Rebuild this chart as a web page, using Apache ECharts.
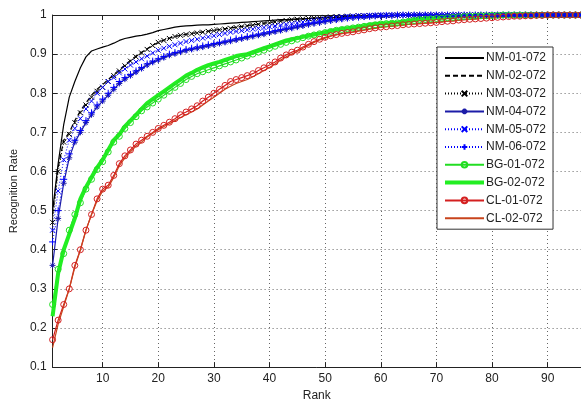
<!DOCTYPE html>
<html><head><meta charset="utf-8">
<script src="https://cdn.jsdelivr.net/npm/echarts@6/dist/echarts.min.js"></script>
<style>html,body{margin:0;padding:0;background:#fff}#c{width:581px;height:407px}</style>
</head><body><div id="c"></div>
<script>
var ranks = [1,2,3,4,5,6,7,8,9,10,11,12,13,14,15,16,17,18,19,20,21,22,23,24,25,26,27,28,29,30,31,32,33,34,35,36,37,38,39,40,41,42,43,44,45,46,47,48,49,50,51,52,53,54,55,56,57,58,59,60,61,62,63,64,65,66,67,68,69,70,71,72,73,74,75,76,77,78,79,80,81,82,83,84,85,86,87,88,89,90,91,92,93,94,95,96];
var xTicks = [10,20,30,40,50,60,70,80,90];
var seriesNames = ['NM-01-072','NM-02-072','NM-03-072','NM-04-072','NM-05-072','NM-06-072','BG-01-072','BG-02-072','CL-01-072','CL-02-072'];

var NM01 = [.50,.62,.72,.79,.83,.865,.893,.908,.913,.918,
.922,.928,.935,.940,.943,.946,.948,.951,.955,.960,
.963,.966,.969,.971,.972,.973,.974,.975,.975,.976,
.977,.978,.979,.980,.981,.982,.983,.984,.985,.986,
.987,.988,.988,.989,.990,.990,.991,.992,.992,.993,
.993,.994,.994,.995,.995,.996,.996,.997,.997,.998,
.998,.998,.999,.999,.999,1,1,1,1,1,
1,1,1,1,1,1,1,1,1,1,
1,1,1,1,1,1,1,1,1,1,
1,1,1,1,1,1];
var NM02 = [.49,.61,.68,.70,.73,.755,.775,.795,.81,.822,
.835,.848,.86,.872,.884,.895,.905,.914,.923,.93,
.936,.941,.945,.948,.951,.953,.955,.957,.959,.961,
.963,.965,.967,.969,.971,.973,.975,.977,.979,.981,
.983,.985,.986,.988,.989,.99,.991,.992,.993,.994,
.995,.995,.996,.996,.997,.997,.998,.998,.999,.999,
.999,1,1,1,1,1,1,1,1,1,
1,1,1,1,1,1,1,1,1,1,
1,1,1,1,1,1,1,1,1,1,
1,1,1,1,1,1];
var NM03 = [.47,.60,.675,.695,.725,.75,.77,.79,.805,.815,
.83,.845,.857,.87,.882,.893,.903,.912,.922,.93,
.935,.94,.945,.948,.95,.952,.954,.956,.958,.96,
.962,.964,.966,.968,.97,.972,.974,.976,.978,.98,
.982,.984,.986,.988,.989,.99,.991,.992,.993,.994,
.995,.996,.996,.997,.997,.998,.998,.998,.999,.999,
.999,.999,1,1,1,1,1,1,1,1,
1,1,1,1,1,1,1,1,1,1,
1,1,1,1,1,1,1,1,1,1,
1,1,1,1,1,1];
var NM04 = [.36,.48,.57,.635,.675,.70,.725,.745,.765,.78,
.795,.81,.825,.836,.845,.854,.863,.872,.879,.885,
.891,.897,.901,.905,.909,.912,.915,.918,.921,.924,
.927,.93,.933,.936,.939,.942,.945,.948,.951,.954,
.957,.96,.963,.966,.969,.972,.975,.978,.98,.983,
.985,.987,.989,.991,.993,.994,.995,.996,.997,.998,
.998,.999,.999,1,1,1,1,1,1,1,
1,1,1,1,1,1,1,1,1,1,
1,1,1,1,1,1,1,1,1,1,
1,1,1,1,1,1];
var NM05 = [.45,.55,.63,.68,.71,.735,.76,.78,.80,.815,
.83,.84,.852,.862,.872,.88,.888,.895,.903,.91,
.915,.92,.924,.928,.932,.935,.938,.941,.944,.947,
.95,.953,.956,.958,.96,.962,.964,.966,.968,.97,
.972,.974,.976,.978,.98,.982,.984,.986,.988,.99,
.992,.994,.995,.996,.997,.998,.998,.999,.999,1,
1,1,1,1,1,1,1,1,1,1,
1,1,1,1,1,1,1,1,1,1,
1,1,1,1,1,1,1,1,1,1,
1,1,1,1,1,1];
var NM06 = [.42,.50,.58,.645,.68,.705,.73,.75,.77,.785,
.80,.815,.83,.84,.848,.857,.866,.875,.882,.888,
.894,.90,.904,.908,.912,.915,.918,.921,.924,.927,
.93,.933,.936,.939,.942,.945,.948,.951,.954,.957,
.96,.963,.966,.969,.972,.975,.978,.98,.982,.985,
.987,.989,.991,.993,.994,.995,.996,.997,.998,.998,
.999,.999,1,1,1,1,1,1,1,1,
1,1,1,1,1,1,1,1,1,1,
1,1,1,1,1,1,1,1,1,1,
1,1,1,1,1,1];
var BG01 = [.26,.35,.39,.45,.49,.52,.555,.58,.605,.625,
.65,.675,.69,.71,.725,.74,.755,.765,.775,.785,
.795,.805,.815,.825,.835,.843,.85,.855,.86,.865,
.87,.875,.88,.885,.89,.895,.90,.905,.91,.915,
.92,.925,.93,.934,.938,.942,.946,.949,.952,.955,
.958,.961,.963,.965,.967,.969,.971,.973,.975,.977,
.978,.979,.98,.982,.984,.986,.988,.989,.99,.991,
.992,.993,.994,.995,.996,.997,.997,.998,.998,.999,
.999,1,1,1,1,1,1,1,1,1,
1,1,1,1,1,1];
var BG02 = [.23,.34,.40,.44,.48,.53,.56,.585,.61,.63,
.655,.68,.695,.715,.73,.745,.76,.775,.785,.795,
.805,.815,.825,.835,.845,.852,.86,.866,.872,.876,
.88,.885,.89,.895,.898,.90,.905,.91,.915,.92,
.925,.93,.935,.938,.941,.944,.947,.95,.953,.956,
.959,.962,.964,.966,.968,.97,.972,.975,.977,.978,
.979,.98,.981,.983,.985,.987,.989,.99,.991,.992,
.993,.994,.995,.996,.997,.997,.998,.998,.999,.999,
1,1,1,1,1,1,1,1,1,1,
1,1,1,1,1,1];
var CL01 = [.17,.22,.26,.30,.36,.40,.45,.49,.53,.555,
.565,.59,.62,.64,.655,.67,.68,.69,.70,.71,
.718,.726,.735,.745,.752,.76,.768,.78,.79,.80,
.81,.82,.83,.835,.84,.845,.85,.858,.865,.872,
.88,.89,.898,.905,.91,.918,.925,.932,.938,.943,
.947,.95,.953,.955,.957,.96,.962,.965,.967,.969,
.97,.972,.973,.975,.976,.977,.978,.979,.98,.981,
.983,.984,.985,.987,.988,.989,.99,.991,.992,.993,
.994,.995,.996,.997,.997,.998,.998,.999,.999,1,
1,1,1,1,1,1];
var CL02 = [.15,.21,.255,.30,.355,.40,.45,.49,.525,.55,
.56,.585,.615,.635,.65,.665,.675,.688,.698,.707,
.715,.722,.73,.738,.745,.752,.76,.77,.78,.79,
.80,.81,.818,.825,.83,.835,.842,.85,.858,.866,
.875,.885,.893,.90,.907,.915,.922,.93,.936,.941,
.946,.949,.952,.954,.956,.959,.961,.964,.966,.968,
.97,.971,.973,.974,.976,.977,.978,.979,.98,.981,
.982,.984,.985,.986,.988,.989,.99,.991,.992,.993,
.994,.995,.996,.996,.997,.998,.998,.999,.999,1,
1,1,1,1,1,1];

var SYM_X = 'path://M0,0L10,10M10,0L0,10';
var SYM_PLUS = 'path://M5,0L5,10M0,5L10,5';
var SYM_STAR = 'path://M5,0L5,10M0,5L10,5M1.5,1.5L8.5,8.5M8.5,1.5L1.5,8.5';
var ICON_THICK = 'path://M0,0L0.01,0M0,1.5L39,1.5L39,5.5L0,5.5ZM39,7L38.99,7';

function pts(arr){ return arr.map(function(v,i){ return [ranks[i], v]; }); }
function mk(name, arr, color, lineType, width, symbol, symSize){
  return {
    name: name, type: 'line', data: pts(arr), xAxisIndex: 0,
    lineStyle: {color: color, width: width, type: lineType},
    itemStyle: {color: 'rgba(0,0,0,0)', borderColor: symbol ? color : 'rgba(0,0,0,0)', borderWidth: symbol ? 1 : 0},
    symbol: symbol || 'circle', symbolSize: symSize || 6,
    showSymbol: !!symbol, silent: true
  };
}

var font = 'Liberation Sans, Arial, sans-serif';
var legendText = {fontFamily: font, fontSize: 12, color: '#222', lineHeight: 14, padding: [0,0,0,-3]};
var legendData = seriesNames.map(function(n){
  return n === 'BG-02-072'
    ? {name: n, icon: ICON_THICK, itemStyle: {color: '#22ee22', borderWidth: 0}}
    : {name: n};
});

var chart = echarts.init(document.getElementById('c'), null, {renderer: 'canvas'});
chart.setOption({
  animation: false,
  backgroundColor: '#fff',
  grid: {left: 50, top: 15, width: 532, height: 358, containLabel: false},
  xAxis: [{
    type: 'value', min: 1, max: 96, position: 'bottom',
    name: 'Rank', nameLocation: 'middle', nameGap: 21,
    nameTextStyle: {fontFamily: font, fontSize: 12, color: '#222'},
    axisLine: {show: true, lineStyle: {color: '#222', width: 1}},
    axisTick: {show: true, inside: true, length: 5, customValues: xTicks, lineStyle: {color: '#222'}},
    axisLabel: {show: true, customValues: xTicks, fontFamily: font, fontSize: 12, color: '#222', margin: 6},
    splitLine: {show: true, lineStyle: {color: '#666', width: 1, type: [1, 3]}}
  }, {
    type: 'value', min: 1, max: 96, position: 'top',
    axisLine: {show: true, lineStyle: {color: '#222', width: 1}},
    axisTick: {show: true, inside: true, length: 5, customValues: xTicks, lineStyle: {color: '#222'}},
    axisLabel: {show: false},
    splitLine: {show: false}
  }],
  yAxis: {
    type: 'value', min: 0.1, max: 1, interval: 0.1,
    name: 'Recognition Rate', nameLocation: 'middle', nameGap: 30,
    nameTextStyle: {fontFamily: font, fontSize: 11, color: '#222'},
    axisLine: {show: true, lineStyle: {color: '#222', width: 1}},
    axisTick: {show: true, inside: true, length: 5, lineStyle: {color: '#222'}},
    axisLabel: {fontFamily: font, fontSize: 12, color: '#222', margin: 6},
    splitLine: {show: true, lineStyle: {color: '#666', width: 1, type: [1, 3]}}
  },
  legend: {
    orient: 'vertical', left: 437, top: 47,
    padding: [4, 7, 4, 7],
    itemWidth: 39, itemHeight: 7, itemGap: 3.8,
    backgroundColor: '#fff', borderColor: '#333', borderWidth: 1, borderRadius: 0,
    textStyle: legendText,
    data: legendData
  },
  series: [
    mk(seriesNames[0], NM01, '#000000', 'solid', 1.2),
    mk(seriesNames[1], NM02, '#000000', [5, 3], 1.2),
    mk(seriesNames[2], NM03, '#000000', [1, 2], 1, SYM_X, 5),
    mk(seriesNames[3], NM04, '#1c1ca8', 'solid', 1.2, SYM_STAR, 6),
    mk(seriesNames[4], NM05, '#0000ff', [1, 2], 1, SYM_X, 5),
    mk(seriesNames[5], NM06, '#0000ff', [1, 2], 1, SYM_PLUS, 7),
    mk(seriesNames[6], BG01, '#22dd22', 'solid', 1.2, 'circle', 6),
    mk(seriesNames[7], BG02, '#22ee22', 'solid', 4),
    mk(seriesNames[8], CL01, '#d42020', 'solid', 1.2, 'circle', 6),
    mk(seriesNames[9], CL02, '#c8441c', 'solid', 1.2)
  ]
});
</script></body></html>
